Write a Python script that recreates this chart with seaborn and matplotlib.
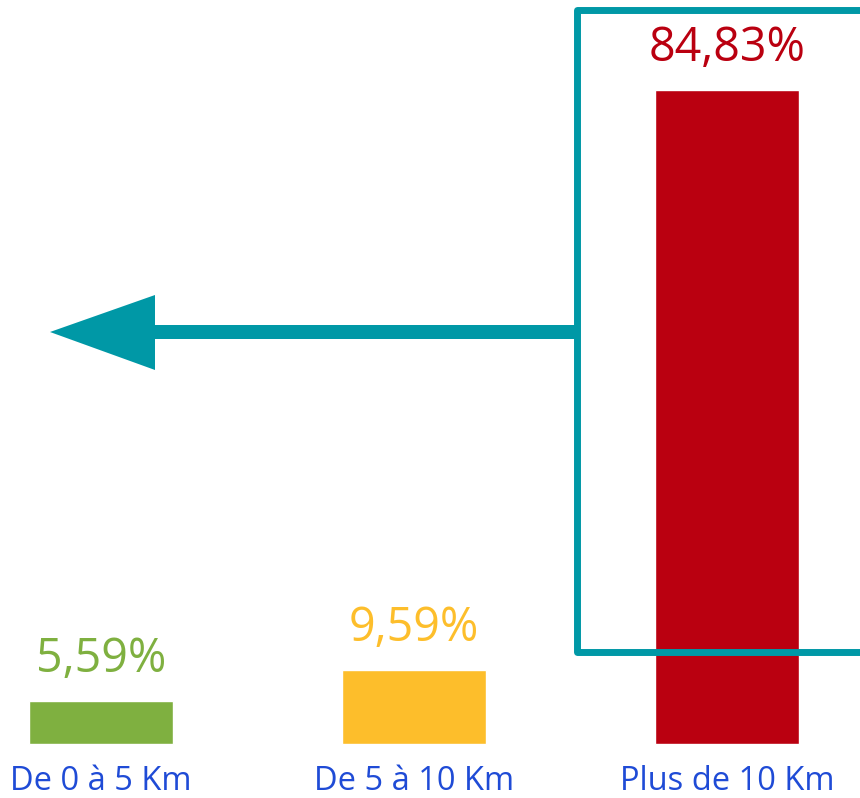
import pandas as pd
import matplotlib.pyplot as plt
import seaborn as sns
from matplotlib.patches import Polygon

sns.set_theme(style="white")
plt.rcParams["font.family"] = ["Open Sans", "DejaVu Sans"]

# Data
categories = ["De 0 à 5 Km", "De 5 à 10 Km", "Plus de 10 Km"]
values = [5.59, 9.59, 84.83]
labels = ["5,59%", "9,59%", "84,83%"]
colors = ["#7FB040", "#FDBE2B", "#BA0010"]

df = pd.DataFrame({"distance": categories, "pct": values})

W, H = 860, 798
fig = plt.figure(figsize=(W / 100, H / 100), dpi=100)
ax = fig.add_axes([0, 0, 1, 1])

sns.barplot(data=df, x="distance", y="pct", hue="distance", palette=colors,
            width=0.46, legend=False, ax=ax, saturation=1)

# axis limits chosen to reproduce the layout
ax.set_xlim(-0.3227, -0.3227 + W / 313)
ax.set_ylim(-7.0, -7.0 + H / 7.71)
ax.axis("off")

for i, (v, lab, c) in enumerate(zip(values, labels, colors)):
    ax.annotate(lab, (i, v), xytext=(0, 13), textcoords="offset points",
                ha="center", va="bottom", fontsize=33.5, color=c)
    ax.annotate(categories[i], (i, 0), xytext=(0, -15), textcoords="offset points",
                ha="center", va="top", fontsize=23.5, color="#1F4BD6")

teal = "#0098A6"


def px(x, y):
    return (x / W, 1 - y / H)


# frame around the big bar (open polyline, runs off the right edge)
frame = [px(900, 10), px(577, 10), px(577, 652), px(900, 652)]
ax.plot([p[0] for p in frame], [p[1] for p in frame], transform=ax.transAxes,
        color=teal, lw=5, solid_joinstyle="round", clip_on=False, zorder=5)

# arrow pointing left
shaft = [px(577, 325), px(155, 325), px(155, 339), px(577, 339)]
ax.add_patch(Polygon(shaft, closed=True, transform=ax.transAxes, color=teal, lw=0, zorder=5))
head = [px(155, 295), px(50, 332), px(155, 370)]
ax.add_patch(Polygon(head, closed=True, transform=ax.transAxes, color=teal, lw=0, zorder=5))

fig.savefig("out.png", dpi=100)
